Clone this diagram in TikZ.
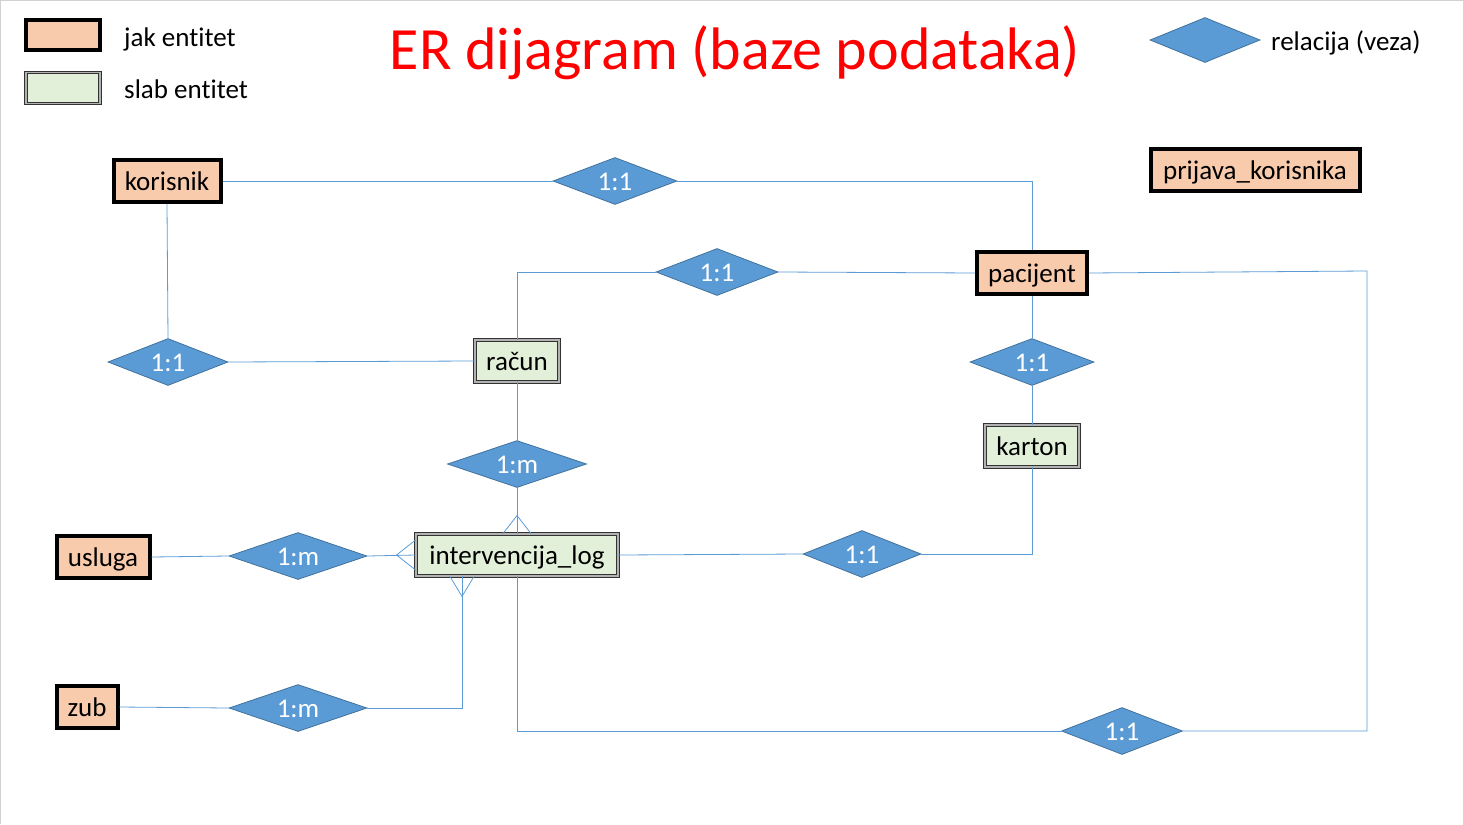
\documentclass[tikz,border=0pt]{standalone}
\usepackage{fontspec}
\setmainfont{Carlito}[Ligatures=NoCommon]
\usetikzlibrary{shapes.geometric,calc}
\definecolor{jakfill}{HTML}{F8CBAD}
\definecolor{slabfill}{HTML}{E2F0D9}
\definecolor{vezafill}{HTML}{5B9BD5}
\definecolor{vezadraw}{HTML}{41719C}
\definecolor{spojcol}{HTML}{5B9BD5}
\definecolor{naslovcol}{HTML}{FF0000}
\begin{document}
\begin{tikzpicture}[x=1pt,y=-1pt,
    tekst/.style={font=\fontsize{27}{31}\selectfont,text height=19pt,text depth=0pt},
    jak/.style={tekst,draw=black,line width=4pt,fill=jakfill,minimum height=42pt,inner sep=0pt},
    slab/.style={tekst,draw=black!80,double=gray!60,line width=0.9pt,double distance=1.8pt,fill=slabfill,minimum height=42pt,inner sep=0pt},
    veza/.style={tekst,diamond,aspect=2.8,draw=vezadraw,line width=0.8pt,fill=vezafill,text=white,inner sep=0pt,minimum width=122pt,minimum height=47pt},
    spoj/.style={draw=spojcol,line width=0.8pt}]
      \useasboundingbox (0,0) rectangle (1463,824);
      \draw[gray!35,line width=1pt] (0.5,824) -- (0.5,0.5) -- (1463,0.5);
      \node[jak,minimum width=74pt,minimum height=30pt] (ljak) at (63,35) {};
      \node[slab,minimum width=74pt,minimum height=31pt] (lslab) at (63,88) {};
      \node[tekst,anchor=west,inner sep=0pt] (tjak) at (124,37) {jak entitet};
      \node[tekst,anchor=west,inner sep=0pt] (tslab) at (124,89) {slab entitet};
      \node[text=naslovcol,font=\fontsize{60}{66}\selectfont] (naslov) at (735,53) {ER dijagram (baze podataka)};
      \node[veza,minimum width=110pt,minimum height=45pt] (lveza) at (1205,40) {};
      \node[tekst,anchor=west,inner sep=0pt] (tveza) at (1271,41) {relacija (veza)};
      \node[jak,minimum width=107pt] (korisnik) at (167,181) {korisnik};
      \node[jak,minimum width=209pt] (prijava) at (1255,170) {prijava\_korisnika};
      \node[jak,minimum width=110pt] (pacijent) at (1032,273) {pacijent};
      \node[slab,minimum width=84pt] (racun) at (517,361) {račun};
      \node[slab,minimum width=94pt] (karton) at (1032,446) {karton};
      \node[slab,minimum width=202pt] (log) at (517,555) {intervencija\_log};
      \node[jak,minimum width=93pt] (usluga) at (103,557) {usluga};
      \node[jak,minimum width=61pt] (zub) at (87,707) {zub};
      \node[veza,minimum width=124pt] (r1) at (615,181) {1:1};
      \node[veza] (r2) at (717,272) {1:1};
      \node[veza,minimum width=120pt] (r3) at (168,362) {1:1};
      \node[veza,minimum width=124pt] (r4) at (1032,362) {1:1};
      \node[veza,minimum width=139pt] (r5) at (517,464) {1:m};
      \node[veza,minimum width=138pt] (r6) at (298,556) {1:m};
      \node[veza,minimum width=118pt] (r7) at (862,554) {1:1};
      \node[veza,minimum width=138pt] (r8) at (298,708) {1:m};
      \node[veza,minimum width=121pt] (r9) at (1122,731) {1:1};
      \coordinate (logz) at ($(log.south)+(-55,0)$);
      \coordinate (desno) at (1367,271);
      \draw[spoj] (korisnik.east) -- (r1.west);
      \draw[spoj] (r1.east) -| (pacijent.north);
      \draw[spoj] (r2.west) -| (racun.north);
      \draw[spoj] (r2.east) -- (pacijent.west);
      \draw[spoj] (korisnik.south) -- (r3.north);
      \draw[spoj] (r3.east) -- (racun.west);
      \draw[spoj] (pacijent.south) -- (r4.north);
      \draw[spoj] (r4.south) -- (karton.north);
      \draw[spoj] (racun.south) -- (r5.north);
      \draw[spoj] (r5.south) -- (log.north);
      \draw[spoj] (usluga.east) -- (r6.west);
      \draw[spoj] (r6.east) -- (log.west);
      \draw[spoj] (log.east) -- (r7.west);
      \draw[spoj] (r7.east) -| (karton.south);
      \draw[spoj] (zub.east) -- (r8.west);
      \draw[spoj] (r8.east) -| (logz);
      \draw[spoj] (log.south) |- (r9.west);
      \draw[spoj] (r9.east) -| (desno) -- (pacijent.east);
      \draw[spoj] ($(log.north)+(-14,0)$) -- ($(log.north)+(0,-18)$) -- ($(log.north)+(14,0)$);
      \draw[spoj] ($(log.west)+(0,-15)$) -- ($(log.west)+(-19,0)$) -- ($(log.west)+(0,15)$);
      \draw[spoj] ($(logz)+(-12,0)$) -- ($(logz)+(0,20)$) -- ($(logz)+(12,0)$);
\end{tikzpicture}
\end{document}
